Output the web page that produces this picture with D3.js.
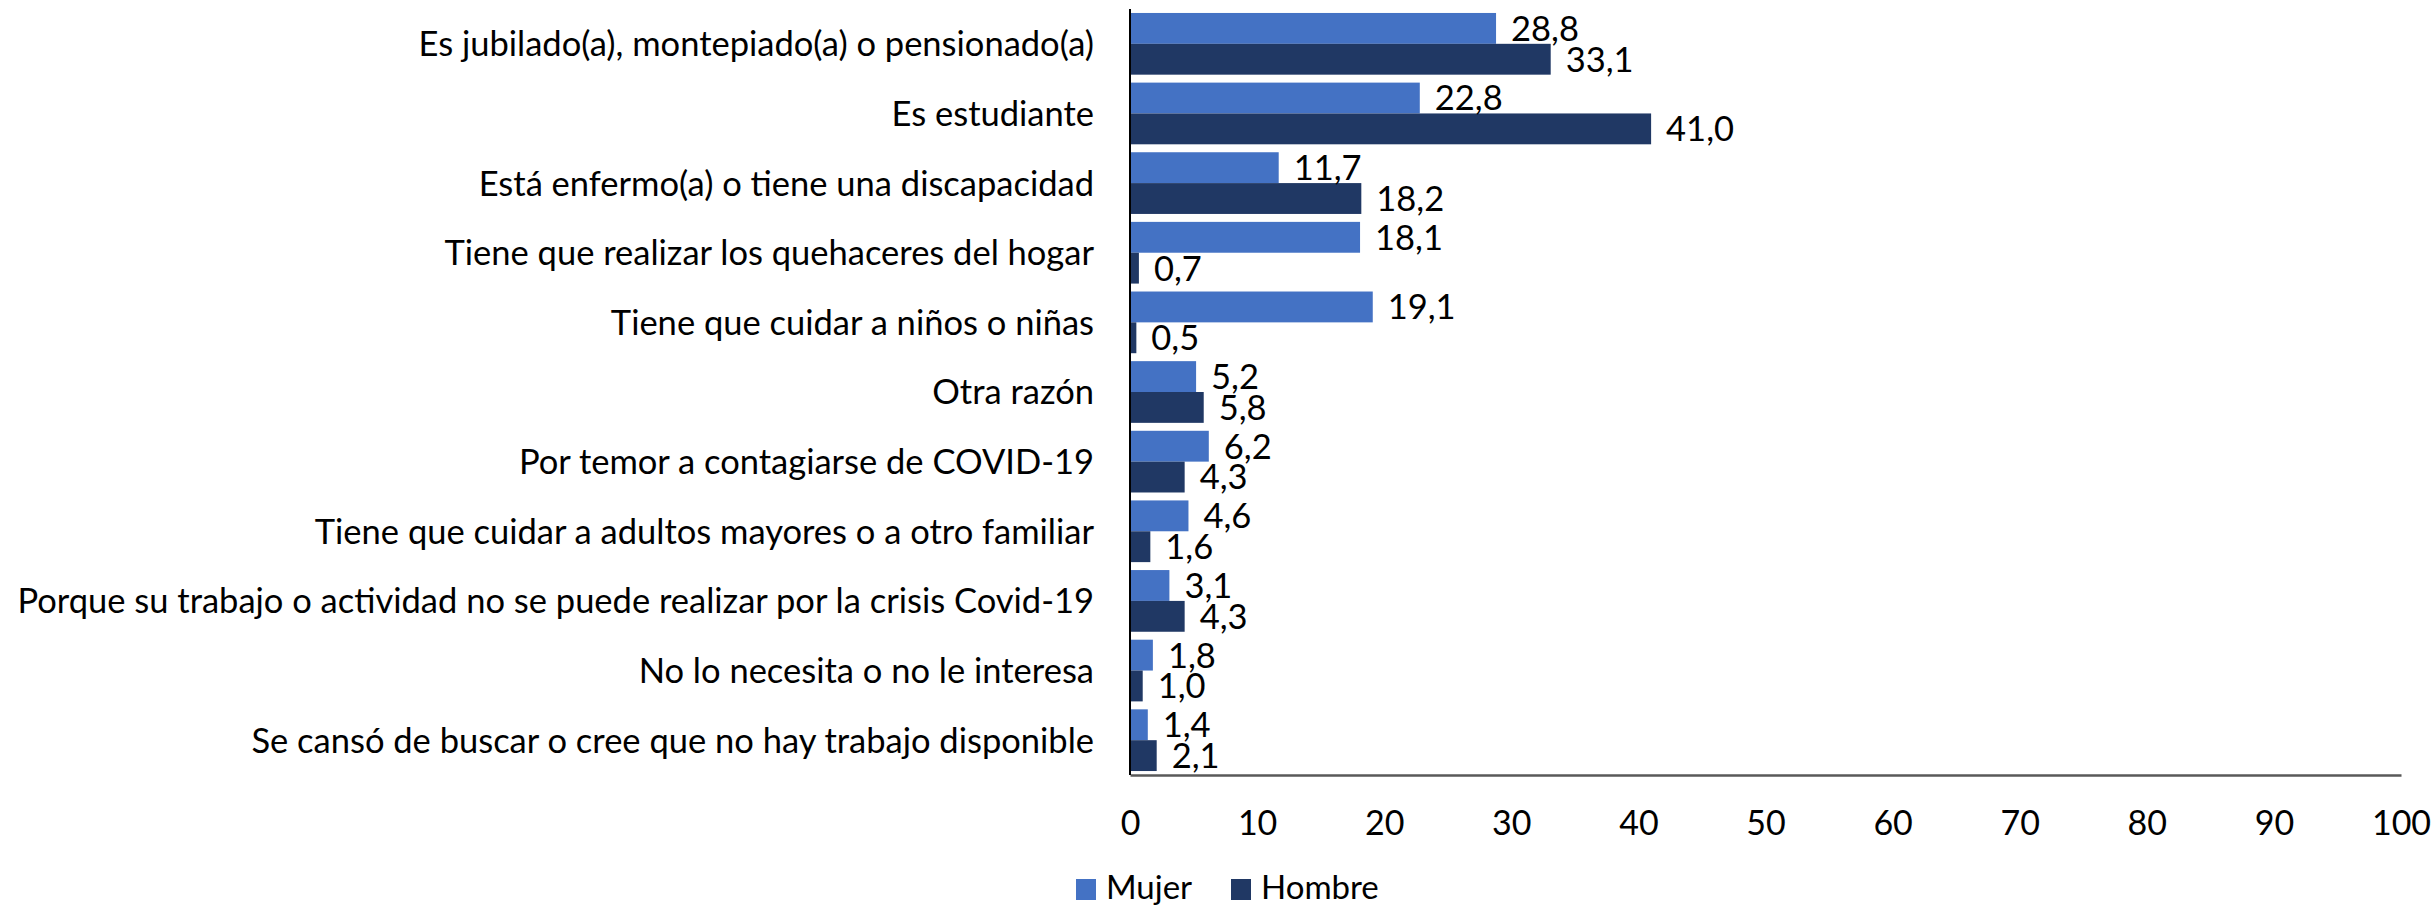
<!DOCTYPE html>
<html>
<head>
<meta charset="utf-8">
<script src="https://cdn.jsdelivr.net/npm/d3@7"></script>
<style>
  html, body { margin: 0; padding: 0; background: #ffffff; }
  svg { display: block; font-family: Lato, "Open Sans", sans-serif; }
</style>
</head>
<body>
<svg id="chart" width="2435" height="906"></svg>
<script>
// Razones para no buscar trabajo, por sexo (%)
const categories = [
  "Es jubilado(a), montepiado(a) o pensionado(a)",
  "Es estudiante",
  "Está enfermo(a) o tiene una discapacidad",
  "Tiene que realizar los quehaceres del hogar",
  "Tiene que cuidar a niños o niñas",
  "Otra razón",
  "Por temor a contagiarse de COVID-19",
  "Tiene que cuidar a adultos mayores o a otro familiar",
  "Porque su trabajo o actividad no se puede realizar por la crisis Covid-19",
  "No lo necesita o no le interesa",
  "Se cansó de buscar o cree que no hay trabajo disponible"
];
const mujer  = [28.8, 22.8, 11.7, 18.1, 19.1, 5.2, 6.2, 4.6, 3.1, 1.8, 1.4];
const hombre = [33.1, 41.0, 18.2, 0.7, 0.5, 5.8, 4.3, 1.6, 4.3, 1.0, 2.1];
const seriesNames = ["Mujer", "Hombre"];
const seriesColors = ["#4472C4", "#203864"];
const xTicks = [0, 10, 20, 30, 40, 50, 60, 70, 80, 90, 100];

const series = [mujer, hombre];
const rows = categories.map((c, i) => ({ cat: c, vals: series.map(s => s[i]) }));

const svg = d3.select("#chart");
const plotLeft = 1130, plotRight = 2401, plotTop = 9, plotBottom = 775;

const x = d3.scaleLinear().domain([0, 100]).range([plotLeft, plotRight]);
const y = d3.scaleBand().domain(categories).range([plotTop, plotBottom])
  .paddingInner(0.114).paddingOuter(0.057);
const ySub = d3.scaleBand().domain(seriesNames).range([0, y.bandwidth()]);

const fmt = v => d3.format(".1f")(v).replace(".", ",");

// bars
const groups = svg.append("g").selectAll("g").data(rows).join("g")
  .attr("transform", d => `translate(0,${y(d.cat)})`);

groups.selectAll("rect").data(d => d.vals.map((v, k) => ({ v, k })))
  .join("rect")
  .attr("x", x(0))
  .attr("y", d => ySub(seriesNames[d.k]))
  .attr("width", d => x(d.v) - x(0))
  .attr("height", ySub.bandwidth())
  .attr("fill", d => seriesColors[d.k]);

// value labels
groups.selectAll("text").data(d => d.vals.map((v, k) => ({ v, k })))
  .join("text")
  .attr("x", d => x(d.v) + 15)
  .attr("y", d => ySub(seriesNames[d.k]) + ySub.bandwidth() / 2)
  .attr("dy", "0.36em")
  .attr("font-size", 34.5)
  .attr("fill", "#000")
  .text(d => fmt(d.v));

// category labels
svg.append("g").selectAll("text").data(categories).join("text")
  .attr("x", 1094)
  .attr("y", d => y(d) + y.bandwidth() / 2)
  .attr("dy", "0.36em")
  .attr("text-anchor", "end")
  .attr("font-size", 34.5)
  .attr("fill", "#000")
  .text(d => d);

// x axis
const xAxis = svg.append("g")
  .attr("transform", `translate(0,${plotBottom})`)
  .call(d3.axisBottom(x).tickValues(xTicks).tickSize(0).tickPadding(36).tickFormat(d3.format("d")));
xAxis.select(".domain").attr("stroke", "#595959").attr("stroke-width", 2.5);
xAxis.selectAll("text").attr("font-size", 34).attr("font-family", "Lato, sans-serif").attr("fill", "#000");

// y axis line
svg.append("line")
  .attr("x1", plotLeft).attr("x2", plotLeft)
  .attr("y1", plotTop).attr("y2", plotBottom)
  .attr("stroke", "#000").attr("stroke-width", 2);

// legend
const legend = svg.append("g").attr("transform", "translate(1076,879)");
const legendOffsets = [0, 155];
seriesNames.forEach((name, k) => {
  const g = legend.append("g").attr("transform", `translate(${legendOffsets[k]},0)`);
  g.append("rect").attr("width", 20).attr("height", 21).attr("fill", seriesColors[k]);
  g.append("text").attr("x", 30).attr("y", 8).attr("dy", "0.36em")
    .attr("font-size", 33).attr("fill", "#000").text(name);
});
</script>
</body>
</html>
